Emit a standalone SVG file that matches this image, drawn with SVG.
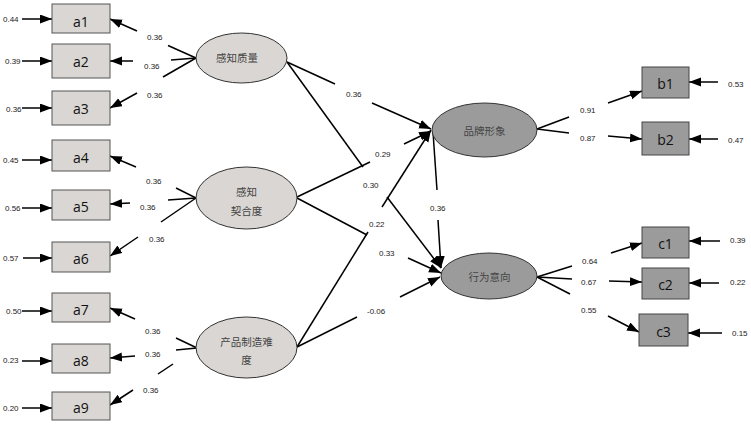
<svg xmlns="http://www.w3.org/2000/svg" width="751" height="424" viewBox="0 0 751 424">
<defs>
<marker id="ah" markerUnits="userSpaceOnUse" markerWidth="13" markerHeight="10" refX="12" refY="4.5" orient="auto">
<path d="M0,0 L12,4.5 L0,9 z" fill="#000"/>
</marker>
</defs>
<style>
.bg{fill:#ffffff}
.ln{stroke:#000;stroke-width:1.5;fill:none}
.ar{stroke:#000;stroke-width:1.5;fill:none;marker-end:url(#ah)}
.boxL{fill:#d9d6d3;stroke:#555;stroke-width:1}
.boxR{fill:#9b9b9b;stroke:#444;stroke-width:1}
.elL{fill:#d9d6d3;stroke:#333;stroke-width:1}
.elR{fill:#9b9b9b;stroke:#333;stroke-width:1}
.bt{font-family:"Open Sans","Liberation Sans",sans-serif;font-size:14px;fill:#111;text-anchor:middle}
.num{font-family:"Liberation Sans",Arial,sans-serif;font-size:8px;fill:#222}
.cn{font-family:"Noto Sans CJK SC",sans-serif;font-size:10.5px;fill:#444;text-anchor:middle}
</style>
<rect class="bg" x="0" y="0" width="751" height="424"/>

<g id="connectors">
<!-- error arrows left -->
<line class="ar" x1="22" y1="19" x2="52" y2="19"/>
<line class="ar" x1="22" y1="61" x2="52" y2="61"/>
<line class="ar" x1="22" y1="108" x2="52" y2="108"/>
<line class="ar" x1="22" y1="160" x2="52" y2="160"/>
<line class="ar" x1="22" y1="208" x2="52" y2="208"/>
<line class="ar" x1="23" y1="258" x2="52" y2="258"/>
<line class="ar" x1="22" y1="311" x2="52" y2="311"/>
<line class="ar" x1="22" y1="361" x2="52" y2="361"/>
<line class="ar" x1="22" y1="408" x2="52" y2="408"/>
<!-- loadings left -->
<line class="ln" x1="196" y1="58" x2="168" y2="45.5"/>
<line class="ar" x1="137" y1="31" x2="110" y2="19"/>
<line class="ln" x1="196" y1="58" x2="171" y2="60"/>
<line class="ar" x1="133" y1="61" x2="110" y2="61"/>
<line class="ln" x1="196" y1="58" x2="163" y2="77"/>
<line class="ar" x1="137" y1="93" x2="110" y2="108"/>

<line class="ln" x1="196" y1="198" x2="176" y2="188"/>
<line class="ar" x1="136" y1="167" x2="110" y2="156"/>
<line class="ln" x1="196" y1="198" x2="168" y2="200"/>
<line class="ar" x1="130" y1="203" x2="110" y2="204"/>
<line class="ln" x1="196" y1="198" x2="161" y2="222"/>
<line class="ar" x1="138" y1="237" x2="110" y2="256"/>

<line class="ln" x1="197" y1="348" x2="176" y2="338"/>
<line class="ar" x1="135" y1="319" x2="110" y2="308"/>
<line class="ln" x1="197" y1="348" x2="176" y2="350"/>
<line class="ar" x1="135" y1="356" x2="110" y2="358"/>
<line class="ln" x1="173" y1="364" x2="158" y2="374"/>
<line class="ar" x1="133" y1="390" x2="110" y2="405"/>

<!-- structural paths -->
<line class="ln" x1="287" y1="62" x2="335" y2="84"/>
<line class="ar" x1="372" y1="103" x2="431" y2="129"/>
<line class="ln" x1="287" y1="62" x2="363" y2="167"/>
<line class="ar" x1="387" y1="197" x2="441" y2="268"/>
<line class="ln" x1="297" y1="197" x2="370" y2="162"/>
<line class="ar" x1="404" y1="144" x2="431" y2="131"/>
<line class="ln" x1="297" y1="198" x2="367" y2="235"/>
<line class="ar" x1="408" y1="258" x2="441" y2="273"/>
<line class="ln" x1="297" y1="347" x2="368" y2="232"/>
<line class="ar" x1="382" y1="207" x2="431" y2="130"/>
<line class="ln" x1="297" y1="347" x2="357" y2="317"/>
<line class="ar" x1="400" y1="297" x2="440" y2="277"/>
<line class="ln" x1="433" y1="132" x2="437" y2="190"/>
<line class="ar" x1="438" y1="220" x2="441" y2="268"/>

<!-- loadings right -->
<line class="ln" x1="537" y1="129" x2="569" y2="117"/>
<line class="ar" x1="608" y1="103" x2="642" y2="91"/>
<line class="ln" x1="537" y1="129" x2="569" y2="133"/>
<line class="ar" x1="608" y1="136" x2="642" y2="139"/>
<line class="ln" x1="537" y1="277" x2="572" y2="266"/>
<line class="ar" x1="611" y1="253" x2="642" y2="243"/>
<line class="ln" x1="537" y1="277" x2="572" y2="279"/>
<line class="ar" x1="609" y1="281" x2="642" y2="282"/>
<line class="ln" x1="537" y1="277" x2="570" y2="294"/>
<line class="ar" x1="608" y1="316" x2="639" y2="332"/>

<!-- error arrows right -->
<line class="ar" x1="718" y1="82" x2="689" y2="82"/>
<line class="ar" x1="718" y1="139" x2="689" y2="139"/>
<line class="ar" x1="720" y1="241" x2="689" y2="241"/>
<line class="ar" x1="719" y1="283" x2="689" y2="283"/>
<line class="ar" x1="722" y1="333" x2="688" y2="333"/>

<!-- path labels -->
<text class="num" x="147" y="39.5">0.36</text>
<text class="num" x="144" y="69">0.36</text>
<text class="num" x="147" y="98">0.36</text>
<text class="num" x="146" y="184">0.36</text>
<text class="num" x="140" y="210">0.36</text>
<text class="num" x="149" y="242">0.36</text>
<text class="num" x="145" y="334">0.36</text>
<text class="num" x="145" y="357">0.36</text>
<text class="num" x="143" y="393">0.36</text>

<text class="num" x="346" y="97">0.36</text>
<text class="num" x="375" y="157">0.29</text>
<text class="num" x="363" y="188">0.30</text>
<text class="num" x="369" y="227">0.22</text>
<text class="num" x="430" y="211">0.36</text>
<text class="num" x="379" y="256">0.33</text>
<text class="num" x="367" y="314">-0.06</text>

<text class="num" x="580" y="113">0.91</text>
<text class="num" x="580" y="141">0.87</text>
<text class="num" x="582" y="264">0.64</text>
<text class="num" x="581" y="285">0.67</text>
<text class="num" x="581" y="313">0.55</text>
</g>

<g id="e-left">
<text class="num" x="3" y="22">0.44</text>
<text class="num" x="5" y="64">0.39</text>
<text class="num" x="6" y="111.5">0.36</text>
<text class="num" x="3" y="163">0.45</text>
<text class="num" x="5" y="211">0.56</text>
<text class="num" x="3" y="261">0.57</text>
<text class="num" x="6" y="314">0.50</text>
<text class="num" x="3" y="363">0.23</text>
<text class="num" x="3" y="411">0.20</text>
</g>
<g id="e-right">
<text class="num" x="728" y="87">0.53</text>
<text class="num" x="728" y="143">0.47</text>
<text class="num" x="730" y="243">0.39</text>
<text class="num" x="730" y="285">0.22</text>
<text class="num" x="732" y="336">0.15</text>
</g>

<g id="a1"><rect class="boxL" x="52" y="4" width="58" height="29"/><text class="bt" x="81" y="27">a1</text></g>
<g id="a2"><rect class="boxL" x="52" y="44" width="58" height="34"/><text class="bt" x="81" y="67">a2</text></g>
<g id="a3"><rect class="boxL" x="52" y="91" width="58" height="34"/><text class="bt" x="81" y="114">a3</text></g>
<g id="a4"><rect class="boxL" x="52" y="140" width="58" height="31"/><text class="bt" x="81" y="163">a4</text></g>
<g id="a5"><rect class="boxL" x="52" y="190" width="58" height="30"/><text class="bt" x="81" y="212">a5</text></g>
<g id="a6"><rect class="boxL" x="52" y="242" width="58" height="30"/><text class="bt" x="81" y="264">a6</text></g>
<g id="a7"><rect class="boxL" x="52" y="293" width="58" height="29"/><text class="bt" x="81" y="315">a7</text></g>
<g id="a8"><rect class="boxL" x="52" y="344" width="58" height="29"/><text class="bt" x="81" y="366">a8</text></g>
<g id="a9"><rect class="boxL" x="52" y="392" width="58" height="28"/><text class="bt" x="81" y="413">a9</text></g>

<g id="b1"><rect class="boxR" x="642" y="67" width="47" height="31"/><text class="bt" x="665.5" y="89">b1</text></g>
<g id="b2"><rect class="boxR" x="642" y="122" width="47" height="33"/><text class="bt" x="665.5" y="145">b2</text></g>
<g id="c1"><rect class="boxR" x="642" y="227" width="47" height="31"/><text class="bt" x="665.5" y="249">c1</text></g>
<g id="c2"><rect class="boxR" x="642" y="268" width="47" height="31"/><text class="bt" x="665.5" y="290">c2</text></g>
<g id="c3"><rect class="boxR" x="639" y="314" width="49" height="32"/><text class="bt" x="663.5" y="337">c3</text></g>

<g id="gzzl"><ellipse class="elL" cx="241.5" cy="58" rx="45.5" ry="25"/><text class="cn" x="237" y="62">感知质量</text></g>
<g id="gzqhd"><ellipse class="elL" cx="246.5" cy="198" rx="50.5" ry="31"/><text class="cn" x="246.5" y="196">感知</text><text class="cn" x="246.5" y="215">契合度</text></g>
<g id="cpzznd"><ellipse class="elL" cx="246.5" cy="347.5" rx="50.5" ry="30.5"/><text class="cn" x="246.5" y="346">产品制造难</text><text class="cn" x="246.5" y="364">度</text></g>
<g id="ppxx"><ellipse class="elR" cx="484.5" cy="130" rx="52.5" ry="27"/><text class="cn" x="484.5" y="135">品牌形象</text></g>
<g id="xwyx"><ellipse class="elR" cx="489" cy="276" rx="48" ry="23"/><text class="cn" x="489.5" y="281">行为意向</text></g>
</svg>
